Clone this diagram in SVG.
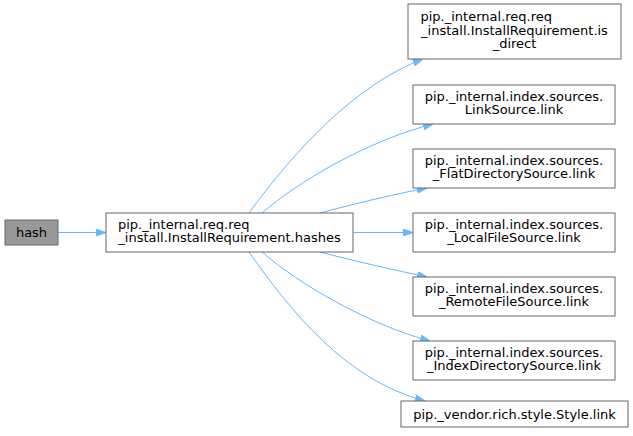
<svg xmlns="http://www.w3.org/2000/svg" width="633" height="436" viewBox="0 0 633 436">
<defs>
<style>
.node rect{fill:#ffffff;stroke:#666666;stroke-width:1}
.node.cur rect{fill:#999999}
.node text{font-family:"DejaVu Sans",sans-serif;font-size:13px;fill:#000000}
.edges path{fill:none;stroke:#63b8ff;stroke-width:1}
</style>
<marker id="ah" viewBox="0 0 10 7" refX="10" refY="3.5" markerWidth="10" markerHeight="7" markerUnits="userSpaceOnUse" orient="auto">
<path d="M0,0 L10,3.5 L0,7 z" fill="#63b8ff" stroke="#63b8ff"/>
</marker>
</defs>
<rect width="633" height="436" fill="#ffffff"/>
<g id="edges" class="edges">
<path d="M58,232.5 L106,232.5" marker-end="url(#ah)"/>
<path d="M249,213 C295,150 355,85 423,59" marker-end="url(#ah)"/>
<path d="M262,213 C300,180 370,140 433,124" marker-end="url(#ah)"/>
<path d="M320,213 C350,205 390,195 427,188" marker-end="url(#ah)"/>
<path d="M353,232.5 L413,232.5" marker-end="url(#ah)"/>
<path d="M320,252 C350,260 390,269 427,277" marker-end="url(#ah)"/>
<path d="M262,252 C300,285 370,325 430,341" marker-end="url(#ah)"/>
<path d="M249,252 C290,310 345,380 425,401" marker-end="url(#ah)"/>
</g>
<g id="node-hash" class="node cur">
<rect x="5" y="220" width="53" height="25"/>
<text x="31.5" y="236.5" text-anchor="middle">hash</text>
</g>
<g id="node-hashes" class="node">
<rect x="106" y="213" width="247" height="39"/>
<text x="118" y="228.5">pip._internal.req.req</text>
<text x="229.5" y="242" text-anchor="middle">_install.InstallRequirement.hashes</text>
</g>
<g id="node-is_direct" class="node">
<rect x="408" y="4" width="213" height="55"/>
<text x="420.5" y="21">pip._internal.req.req</text>
<text x="514.5" y="34.5" text-anchor="middle">_install.InstallRequirement.is</text>
<text x="514.5" y="48" text-anchor="middle">_direct</text>
</g>
<g id="node-linksource" class="node">
<rect x="413" y="85" width="202" height="39"/>
<text x="514" y="100.5" text-anchor="middle">pip._internal.index.sources.</text>
<text x="514" y="114" text-anchor="middle">LinkSource.link</text>
</g>
<g id="node-flat" class="node">
<rect x="413" y="149" width="202" height="39"/>
<text x="514" y="164.5" text-anchor="middle">pip._internal.index.sources.</text>
<text x="514" y="178" text-anchor="middle">_FlatDirectorySource.link</text>
</g>
<g id="node-local" class="node">
<rect x="413" y="213" width="202" height="39"/>
<text x="514" y="228.5" text-anchor="middle">pip._internal.index.sources.</text>
<text x="514" y="242" text-anchor="middle">_LocalFileSource.link</text>
</g>
<g id="node-remote" class="node">
<rect x="413" y="277" width="202" height="39"/>
<text x="514" y="292.5" text-anchor="middle">pip._internal.index.sources.</text>
<text x="514" y="306" text-anchor="middle">_RemoteFileSource.link</text>
</g>
<g id="node-index" class="node">
<rect x="413" y="341" width="202" height="39"/>
<text x="514" y="356.5" text-anchor="middle">pip._internal.index.sources.</text>
<text x="514" y="370" text-anchor="middle">_IndexDirectorySource.link</text>
</g>
<g id="node-style" class="node">
<rect x="401" y="401" width="227" height="26"/>
<text x="514.5" y="418.5" text-anchor="middle">pip._vendor.rich.style.Style.link</text>
</g>
</svg>
